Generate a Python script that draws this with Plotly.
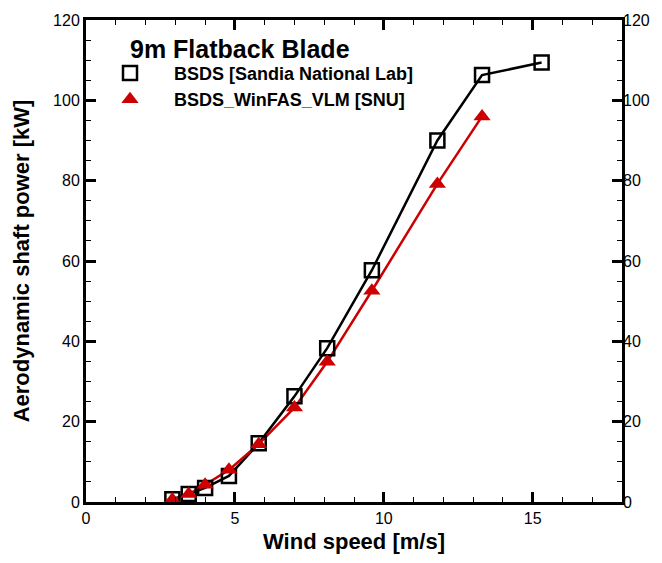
import plotly.graph_objects as go

wind_sandia = [2.9, 3.45, 4.0, 4.8, 5.8, 7.0, 8.1, 9.6, 11.8, 13.3, 15.3]
power_sandia = [0.7, 2.0, 3.5, 6.5, 14.6, 26.3, 38.3, 57.7, 90.0, 106.3, 109.4]
wind_snu = [2.9, 3.45, 4.0, 4.8, 5.8, 7.0, 8.1, 9.6, 11.8, 13.3]
power_snu = [0.6, 2.0, 4.3, 8.0, 14.4, 23.5, 34.9, 52.6, 79.2, 96.0]

name_sandia = "BSDS [Sandia National Lab]"
name_snu = "BSDS_WinFAS_VLM [SNU]"
legend_title = "9m Flatback Blade"
RED = "#cc0000"
FONT = "Liberation Sans, Arial, sans-serif"

fig = go.Figure()
fig.add_trace(go.Scatter(x=wind_sandia, y=power_sandia, mode="lines", line=dict(color="black", width=2.5),
                         showlegend=False, hoverinfo="skip"))
fig.add_trace(go.Scatter(x=wind_snu, y=power_snu, mode="lines", line=dict(color=RED, width=2.5),
                         showlegend=False, hoverinfo="skip"))
fig.add_trace(go.Scatter(x=wind_sandia, y=power_sandia, mode="markers", name="<b>" + name_sandia + "</b>",
                         marker=dict(symbol="square-open", size=14, color="black", line=dict(width=2.5, color="black"))))
fig.add_trace(go.Scatter(x=wind_snu, y=power_snu, mode="markers", name="<b>" + name_snu + "</b>", yaxis="y2",
                         marker=dict(symbol="triangle-up", size=15, color=RED, line=dict(width=0))))

axis_common = dict(showline=True, linecolor="black", linewidth=3, ticks="inside", tickwidth=3, ticklen=10,
                   tickcolor="black", showgrid=False, zeroline=False,
                   tickfont=dict(family=FONT, size=16, color="black"))

fig.update_layout(
    width=662, height=563,
    margin=dict(l=86, r=40, t=17, b=60),
    plot_bgcolor="white", paper_bgcolor="white",
    xaxis=dict(range=[0, 18], dtick=5, mirror="ticks",
               minor=dict(dtick=1, ticks="inside", ticklen=5, tickwidth=1, tickcolor="black"),
               title=dict(text="<b>Wind speed [m/s]</b>", font=dict(family=FONT, size=22, color="black"), standoff=8),
               **axis_common),
    yaxis=dict(range=[0, 120], dtick=20, mirror="ticks",
               minor=dict(dtick=5, ticks="inside", ticklen=5, tickwidth=1, tickcolor="black"),
               title=dict(text="<b>Aerodynamic shaft power [kW]</b>", font=dict(family=FONT, size=22, color="black"), standoff=18),
               **axis_common),
    yaxis2=dict(range=[0, 120], dtick=20, overlaying="y", side="right", showline=False, ticks="",
                showgrid=False, zeroline=False, tickfont=dict(family=FONT, size=16, color="black")),
    legend=dict(x=0.0, y=0.928, xanchor="left", yanchor="top", bgcolor="rgba(0,0,0,0)",
                font=dict(family=FONT, size=18, color="black"), itemwidth=78),
    annotations=[dict(text="<b>" + legend_title + "</b>", xref="paper", yref="paper", x=0.078, y=0.94,
                      xanchor="left", yanchor="middle", showarrow=False,
                      font=dict(family=FONT, size=25, color="black"))],
)

fig.write_html("out.html")
